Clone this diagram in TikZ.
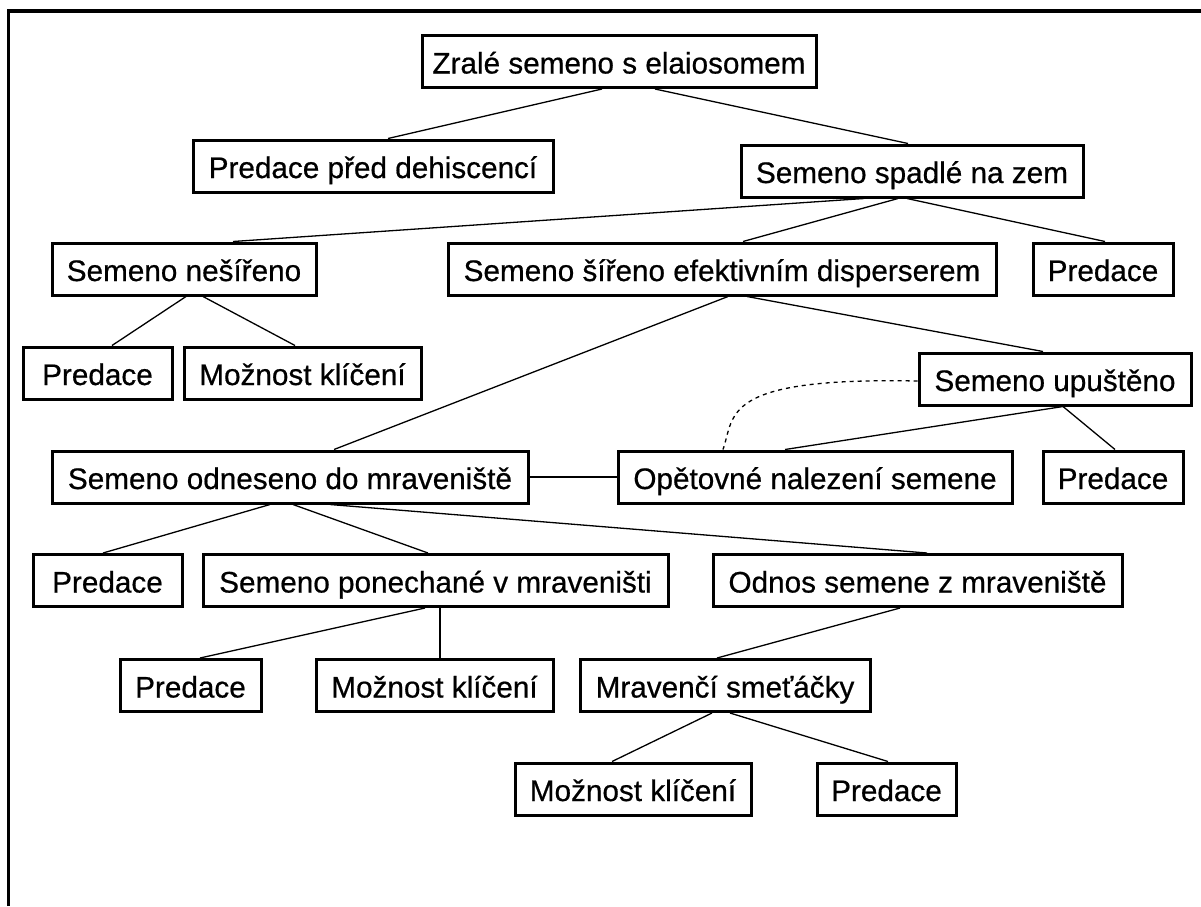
\documentclass[tikz,border=0pt]{standalone}
\usepackage{fontspec}
\setmainfont{Liberation Sans}
\newfontfamily\boxfont{Liberation Sans}[FakeBold=0.6]
\usepackage{tikz}

\begin{document}
\begin{tikzpicture}[x=1pt,y=-1pt,
    box/.style={draw, line width=3pt, inner sep=0pt, minimum height=52,
      text height=28pt, text depth=4pt, font=\boxfont\fontsize{29.7}{35}\selectfont},
    link/.style={line width=1.3pt},
    back/.style={line width=1.3pt, dash pattern=on 4pt off 4pt}]
    \useasboundingbox (0,0) rectangle (1201,906);
    \draw[line width=3.3pt] (8.5,906) -- (8.5,11) -- (1201,11);

     % top levels
     \node[name=zrale, box, minimum width=394] at (619,61.5) {Zralé semeno s elaiosomem};
     \node[name=predpred, box, minimum width=360] at (373,166) {Predace před dehiscencí};
     \node[name=spadle, box, minimum width=342] at (912,171) {Semeno spadlé na zem};
     \node[name=nesireno, box, minimum width=264] at (184,269) {Semeno nešířeno};
     \node[name=sireno, box, minimum width=548] at (722,269) {Semeno šířeno efektivním disperserem};
     \node[name=predA, box, minimum width=140] at (1103,269) {Predace};
     \node[name=predB, box, minimum width=149] at (97.5,373) {Predace};
     \node[name=klicA, box, minimum width=237] at (302.5,373) {Možnost klíčení};
     \node[name=upusteno, box, minimum width=272] at (1055,379) {Semeno upuštěno};
     % ant nest
     \node[name=odneseno, box, minimum width=476] at (290,477) {Semeno odneseno do mraveniště};
     \node[name=nalezeni, box, minimum width=394] at (815,477) {Opětovné nalezení semene};
     \node[name=predC, box, minimum width=140] at (1113,477) {Predace};
     \node[name=predD, box, minimum width=149] at (107.5,580.5) {Predace};
     \node[name=ponechane, box, minimum width=465] at (435.5,580.5) {Semeno ponechané v mraveništi};
     \node[name=odnos, box, minimum width=409] at (917.5,580.5) {Odnos semene z mraveniště};
     \node[name=predE, box, minimum width=141] at (190.5,685.5) {Predace};
     \node[name=klicB, box, minimum width=237] at (434.5,685.5) {Možnost klíčení};
     \node[name=smetacky, box, minimum width=290] at (725,685.5) {Mravenčí smeťáčky};
     \node[name=klicC, box, minimum width=236] at (633,789) {Možnost klíčení};
     \node[name=predF, box, minimum width=139] at (886.5,789) {Predace};

     \draw[link] ([xshift=-17]zrale.south) -- ([xshift=15]predpred.north);
     \draw[link] ([xshift=36]zrale.south) -- ([xshift=-4]spadle.north);
     \draw[link] ([xshift=-48]spadle.south) -- ([xshift=49]nesireno.north);
     \draw[link] ([xshift=-14]spadle.south) -- ([xshift=21]sireno.north);
     \draw[link] ([xshift=-5]spadle.south) -- ([xshift=2]predA.north);
     \draw[link] ([xshift=2]nesireno.south) -- ([xshift=14.5]predB.north);
     \draw[link] ([xshift=19]nesireno.south) -- ([xshift=-7.5]klicA.north);
     \draw[link] ([xshift=6]sireno.south) -- ([xshift=44]odneseno.north);
     \draw[link] ([xshift=25]sireno.south) -- ([xshift=-12]upusteno.north);
     \draw[link] ([xshift=8]upusteno.south) -- ([xshift=-30]nalezeni.north);
     \draw[link] ([xshift=8]upusteno.south) -- ([xshift=2]predC.north);
     \draw[back] ([yshift=-2]upusteno.west) .. controls (720,377) and (735,415) .. ([xshift=-92]nalezeni.north);
     \draw[link] (odneseno.east) -- (nalezeni.west);
     \draw[link] ([xshift=-20]odneseno.south) -- ([xshift=-4.5]predD.north);
     \draw[link] ([xshift=3]odneseno.south) -- ([xshift=-7.5]ponechane.north);
     \draw[link] ([xshift=40]odneseno.south) -- ([xshift=9.5]odnos.north);
     \draw[link] ([xshift=-10.5]ponechane.south) -- ([xshift=9.5]predE.north);
     \draw[link] ([xshift=5.5]klicB.north) -- ([xshift=5.5]klicB.north |- ponechane.south);
     \draw[link] ([xshift=-17.5]odnos.south) -- ([xshift=-8]smetacky.north);
     \draw[link] ([xshift=-13]smetacky.south) -- ([xshift=-21]klicC.north);
     \draw[link] ([xshift=5]smetacky.south) -- ([xshift=1.5]predF.north);
\end{tikzpicture}
\end{document}
